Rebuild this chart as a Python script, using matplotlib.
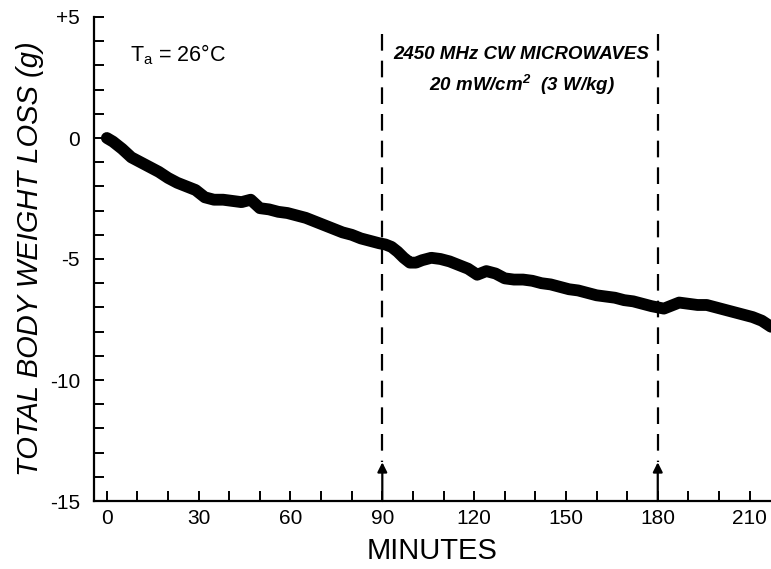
import matplotlib
matplotlib.use("Agg")
import matplotlib.pyplot as plt
from matplotlib.ticker import MultipleLocator

plt.rcParams['font.family'] = ['Liberation Sans', 'DejaVu Sans']
plt.rcParams['mathtext.default'] = 'regular'

# weight loss trace (minutes, grams)
minutes = [0, 2, 5, 8, 11, 14, 17, 20, 23, 26, 29, 32, 35, 38, 41, 44, 47, 50,
           53, 56, 59, 62, 65, 68, 71, 74, 77, 80, 83, 86, 89, 91, 93, 95, 97,
           99, 101, 103, 106, 109, 112, 115, 118, 121, 124, 127, 130, 133, 136,
           139, 142, 145, 148, 151, 154, 157, 160, 163, 166, 169, 172, 175, 178,
           180, 182, 184, 187, 190, 193, 196, 199, 202, 205, 208, 211, 214, 217]
weight_loss = [0.0, -0.15, -0.45, -0.8, -1.0, -1.2, -1.4, -1.65, -1.85, -2.0,
               -2.15, -2.45, -2.55, -2.55, -2.6, -2.65, -2.55, -2.9, -2.95, -3.05,
               -3.1, -3.2, -3.3, -3.45, -3.6, -3.75, -3.9, -4.0, -4.15, -4.25,
               -4.35, -4.4, -4.5, -4.7, -4.95, -5.15, -5.15, -5.05, -4.95, -5.0,
               -5.1, -5.25, -5.4, -5.65, -5.5, -5.6, -5.8, -5.85, -5.85, -5.9,
               -6.0, -6.05, -6.15, -6.25, -6.3, -6.4, -6.5, -6.55, -6.6, -6.7,
               -6.75, -6.85, -6.95, -7.0, -7.05, -6.95, -6.8, -6.85, -6.9, -6.9,
               -7.0, -7.1, -7.2, -7.3, -7.4, -7.55, -7.8]

exposure_marks = [90, 180]
x_ticks = [0, 30, 60, 90, 120, 150, 180, 210]
y_ticks = [5, 0, -5, -10, -15]
y_tick_labels = ['+5', '0', '-5', '-10', '-15']

fig = plt.figure(figsize=(7.71, 5.69), dpi=100)
ax = fig.add_axes([94 / 771, (569 - 501) / 569, (771 - 94) / 771, 484 / 569])

ax.plot(minutes, weight_loss, color='black', lw=8.5, solid_capstyle='round',
        solid_joinstyle='round')

# microwave on / off markers
for m in exposure_marks:
    ax.plot([m, m], [4.3, -13.4], color='black', lw=1.6,
            linestyle=(0, (7.5, 4.5)))
    ax.annotate('', xy=(m, -13.4), xytext=(m, -15),
                arrowprops=dict(arrowstyle='-|>', color='black', lw=1.6,
                                mutation_scale=14, shrinkA=0, shrinkB=0))

ax.text(135.5, 3.43, '2450 MHz CW MICROWAVES', ha='center', va='center',
        fontsize=13.5, fontweight='bold', fontstyle='italic')
ax.text(135.5, 2.19, '20 mW/cm$^2$  (3 W/kg)', ha='center', va='center',
        fontsize=13.5, fontweight='bold', fontstyle='italic')
ax.text(7.5, 3.43, 'T$_a$ = 26°C', ha='left', va='center', fontsize=15.5)

ax.set_xlim(-4.2, 217)
ax.set_ylim(-15, 5)

ax.spines['top'].set_visible(False)
ax.spines['right'].set_visible(False)
ax.spines['left'].set_linewidth(1.6)
ax.spines['bottom'].set_linewidth(1.6)

ax.set_xticks(x_ticks)
ax.xaxis.set_minor_locator(MultipleLocator(10))
ax.set_yticks(y_ticks)
ax.set_yticklabels(y_tick_labels)
ax.yaxis.set_minor_locator(MultipleLocator(1))
ax.tick_params(which='both', direction='in', width=1.4, length=7, labelsize=15)
ax.tick_params(axis='x', which='major', pad=6)
ax.tick_params(axis='y', which='major', pad=10)

ax.set_xlabel('MINUTES', fontsize=21, labelpad=6)
ax.set_ylabel('TOTAL BODY WEIGHT LOSS (g)', fontsize=21, fontstyle='italic',
              labelpad=4)

fig.savefig('out.png', dpi=100)
